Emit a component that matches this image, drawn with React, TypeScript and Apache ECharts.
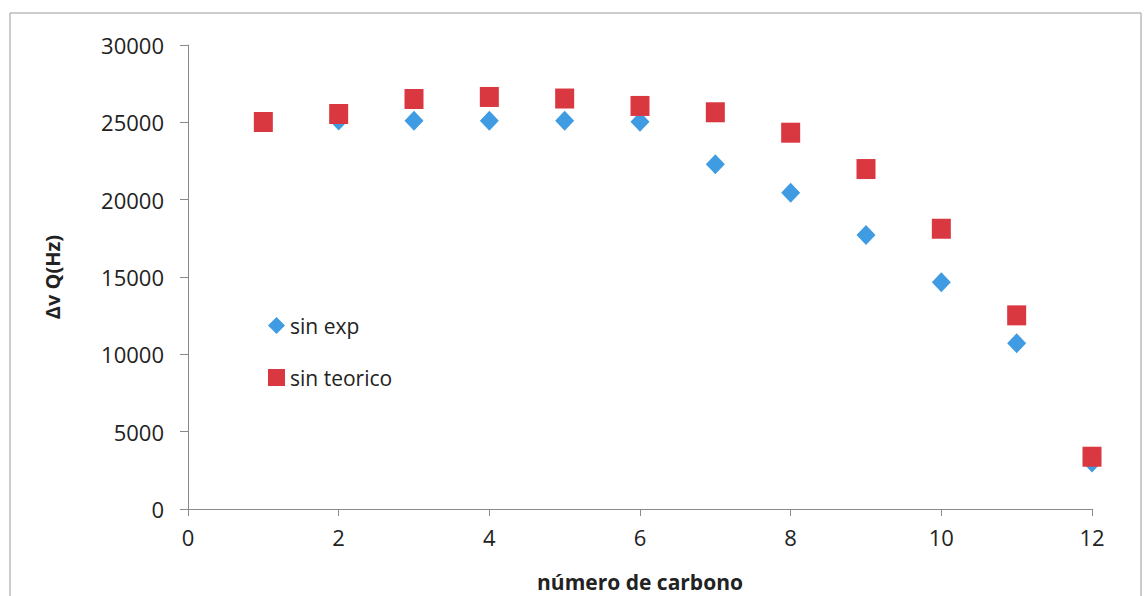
import React, { useEffect, useRef } from "react";
import * as echarts from "echarts";

// número de carbono
const carbonNumbers = [1, 2, 3, 4, 5, 6, 7, 8, 9, 10, 11, 12];
// Δv Q (Hz), experimental
const sinExp = [25000, 25120, 25100, 25100, 25100, 25040, 22290, 20450, 17720, 14660, 10710, 3000];
// Δv Q (Hz), theoretical
const sinTeorico = [25020, 25540, 26510, 26640, 26540, 26060, 25650, 24330, 21980, 18120, 12520, 3380];

const xTicks = [0, 2, 4, 6, 8, 10, 12];
const yTicks = [0, 5000, 10000, 15000, 20000, 25000, 30000];

const FONT = "'Open Sans', 'Liberation Sans', sans-serif";
const BLUE = "#3f9be2";
const RED = "#d93840";
const AXIS = "#8a8a8a";
const TEXT = "#222222";

export default function App() {
  const ref = useRef<HTMLDivElement>(null);

  useEffect(() => {
    if (!ref.current) return;
    const chart = echarts.init(ref.current, null, { renderer: "svg" });
    const pairs = (ys: number[]) => carbonNumbers.map((x, i) => [x, ys[i]]);

    chart.setOption({
      animation: false,
      backgroundColor: "#ffffff",
      textStyle: { fontFamily: FONT },
      grid: {
        left: 188,
        right: 53,
        top: 45,
        bottom: 87,
        containLabel: false,
        outerBoundsMode: "none",
      },
      graphic: [
        {
          type: "rect",
          shape: { x: 10, y: 13, width: 1131, height: 600 },
          style: { fill: "none", stroke: "#9a9a9a", lineWidth: 1 },
          silent: true,
        },
      ],
      legend: {
        orient: "vertical",
        left: 263,
        top: 310,
        itemWidth: 17,
        itemHeight: 17,
        itemGap: 31,
        textStyle: { fontFamily: FONT, fontSize: 21, color: TEXT, padding: [6, 0, 0, 0] },
        data: [
          { name: "sin exp", icon: "diamond" },
          { name: "sin teorico", icon: "rect" },
        ],
      },
      xAxis: {
        type: "value",
        min: xTicks[0],
        max: xTicks[xTicks.length - 1],
        interval: 2,
        name: "número de carbono",
        nameLocation: "middle",
        nameGap: 62,
        nameTextStyle: { fontFamily: FONT, fontSize: 21, fontWeight: "bold", color: TEXT },
        axisLine: { show: true, lineStyle: { color: AXIS, width: 1 } },
        axisTick: { show: true, inside: false, length: 7, lineStyle: { color: AXIS } },
        axisLabel: { fontFamily: FONT, fontSize: 22, color: TEXT, margin: 17 },
        splitLine: { show: false },
      },
      yAxis: {
        type: "value",
        min: yTicks[0],
        max: yTicks[yTicks.length - 1],
        interval: 5000,
        name: "Δv Q(Hz)",
        nameLocation: "middle",
        nameRotate: 90,
        nameGap: 126,
        nameTextStyle: { fontFamily: FONT, fontSize: 20, fontWeight: "bold", color: TEXT },
        axisLine: { show: true, lineStyle: { color: AXIS, width: 1 } },
        axisTick: { show: true, inside: false, length: 8, lineStyle: { color: AXIS } },
        axisLabel: {
          fontFamily: FONT,
          fontSize: 22,
          color: TEXT,
          margin: 24,
          formatter: (v: number) => String(v),
        },
        splitLine: { show: false },
      },
      series: [
        {
          name: "sin exp",
          type: "scatter",
          symbol: "diamond",
          symbolSize: [19, 20],
          itemStyle: { color: BLUE, opacity: 1 },
          data: pairs(sinExp),
          z: 2,
        },
        {
          name: "sin teorico",
          type: "scatter",
          symbol: "rect",
          symbolSize: [19, 20],
          itemStyle: { color: RED, opacity: 1 },
          data: pairs(sinTeorico),
          z: 3,
        },
      ],
    });

    return () => chart.dispose();
  }, []);

  return (
    <div
      ref={ref}
      style={{ position: "fixed", left: 0, top: 0, width: 1145, height: 596, background: "#fff" }}
    />
  );
}
